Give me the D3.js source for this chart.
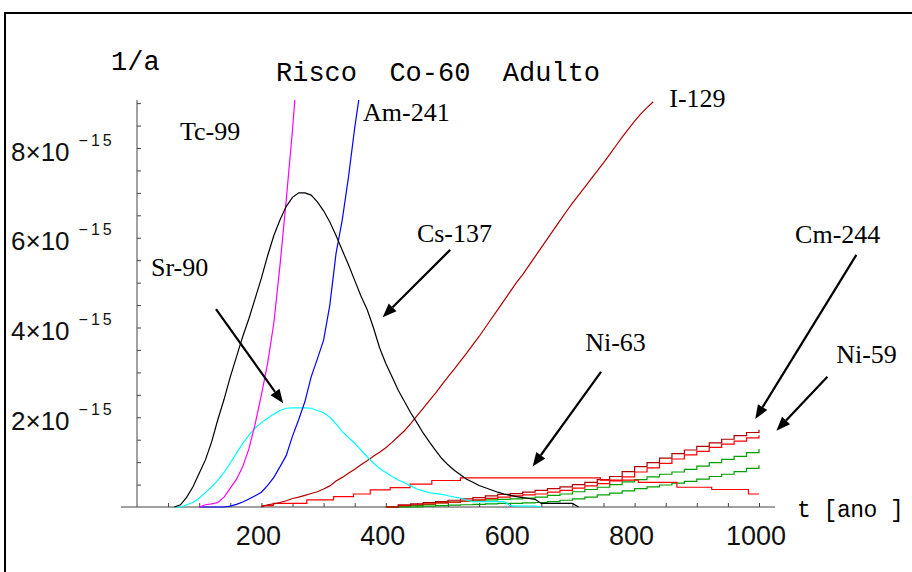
<!DOCTYPE html>
<html><head><meta charset="utf-8">
<script src="https://cdn.jsdelivr.net/npm/d3@7"></script>
<style>body{margin:0;background:#fff}svg{display:block}</style>
</head><body>
<svg id="c" width="912" height="572"></svg>
<script>
// ---- data (risk in units of 1e-15 per year, t in years) ----
const xTickLabels = [200, 400, 600, 800, 1000];
const yTickLabels = [2, 4, 6, 8];
const yExponent = "-15";

const cs137Start = 60, cs137Step = 10;
const cs137 = [0,0.05,0.22,0.45,0.75,1.05,1.45,1.95,2.4,2.9,3.35,3.8,4.2,4.65,5.1,5.6,6.05,6.4,6.7,6.9,7.0,7.0,6.95,6.8,6.6,6.35,6.05,5.72,5.4,5.05,4.7,4.4,4.0,3.55,3.2,2.9,2.6,2.35,2.1,1.88,1.65,1.45,1.26,1.08,0.94,0.82,0.72,0.62,0.55,0.48,0.43,0.38,0.33,0.29,0.26,0.23,0.21,0.19,0.17,0.08,0.08,0.08,0.08,0.08,0.08,0];

const sr90Start = 60, sr90Step = 10;
const sr90 = [0,0,0.05,0.1,0.2,0.32,0.45,0.6,0.77,0.98,1.2,1.42,1.6,1.76,1.88,1.98,2.07,2.15,2.2,2.21,2.21,2.21,2.2,2.15,2.1,2.0,1.85,1.68,1.55,1.42,1.27,1.12,0.98,0.86,0.77,0.68,0.6,0.54,0.47,0.4,0.36,0.32,0.3,0.28,0.25,0.22,0.2,0.15,0.12,0.12,0.12,0.12,0.12,0.12,0.03,0.02,0.02,0.02,0.02,0];

const tc99Start = 100, tc99Step = 10;
const tc99 = [0,0.05,0.07,0.1,0.22,0.42,0.62,0.9,1.3,1.85,2.5,3.2,4.1,5.4,6.85,8.4,10.2];

const am241Start = 100, am241Step = 10;
const am241 = [0,0,0,0,0,0.02,0.06,0.11,0.18,0.25,0.33,0.48,0.66,0.9,1.15,1.58,1.95,2.35,2.9,3.3,3.72,4.5,5.65,6.4,7.35,8.45,9.4];

const i129Start = 200, i129Step = 10;
const i129 = [0,0.05,0.07,0.1,0.14,0.19,0.22,0.26,0.3,0.34,0.4,0.47,0.58,0.66,0.75,0.84,0.94,1.03,1.13,1.22,1.32,1.44,1.57,1.7,1.86,2.03,2.2,2.37,2.54,2.72,2.9,3.07,3.25,3.43,3.62,3.8,4.0,4.2,4.4,4.6,4.8,5.0,5.18,5.38,5.58,5.78,5.98,6.18,6.38,6.58,6.77,6.95,7.13,7.31,7.49,7.67,7.86,8.05,8.24,8.42,8.6,8.76,8.9,9.03];

const lateStart = 400, lateStep = 20;
const cm244 = [0,0.05,0.07,0.1,0.12,0.15,0.18,0.21,0.25,0.28,0.3,0.33,0.37,0.41,0.45,0.5,0.55,0.61,0.68,0.79,0.9,0.99,1.09,1.19,1.27,1.35,1.43,1.51,1.59,1.66,1.72];
const ni59 = [0,0.03,0.05,0.07,0.09,0.11,0.13,0.16,0.19,0.22,0.25,0.27,0.29,0.33,0.37,0.42,0.47,0.52,0.58,0.67,0.78,0.87,0.97,1.07,1.16,1.24,1.33,1.4,1.47,1.54,1.6];
const greenA = [0,0.01,0.03,0.06,0.09,0.11,0.13,0.15,0.16,0.17,0.18,0.2,0.22,0.26,0.29,0.34,0.39,0.44,0.5,0.56,0.61,0.67,0.73,0.78,0.84,0.91,0.99,1.06,1.13,1.21,1.29];
const greenB = [0,0,0,0.02,0.03,0.04,0.05,0.06,0.07,0.08,0.08,0.09,0.1,0.12,0.15,0.18,0.22,0.27,0.31,0.36,0.41,0.45,0.49,0.53,0.57,0.62,0.68,0.73,0.79,0.86,0.93];

const ni63Years  = [200,219,273,316,348,375,407,439,474,520,745,806,868,924,983,1000];
const ni63Values = [0.03,0.08,0.16,0.23,0.29,0.38,0.43,0.51,0.59,0.65,0.6,0.55,0.44,0.39,0.29,0.29];

// labels and arrows in data coordinates
const labelNames = ["Tc-99","Am-241","I-129","Cs-137","Sr-90","Ni-63","Cm-244","Ni-59"];
const labelT = [69, 363.5, 855.7, 450, 22.5, 720.6, 1058, 1124];
const labelV = [8.18, 8.6, 8.91, 5.9, 5.15, 3.48, 5.88, 3.21];
const arrowFromT = [127, 503.5, 746, 1156.5, 1110];
const arrowFromV = [4.41, 5.73, 3.01, 5.62, 2.9];
const arrowToT = [235, 395, 636, 994, 1028];
const arrowToV = [2.31, 4.23, 0.9, 1.96, 1.7];

// ---- drawing ----
const svg = d3.select("#c");
const x = d3.scaleLinear().domain([0, 1000]).range([137, 759]);
const y = d3.scaleLinear().domain([0, 8]).range([507, 148]);

// frame
svg.append("path").attr("d", "M5,600V13H920").attr("fill","none").attr("stroke","#000").attr("stroke-width",2);

svg.append("defs").append("clipPath").attr("id","plot")
  .append("rect").attr("x", x(-30)).attr("y", y(9.07)).attr("width", x(1040)-x(-30)).attr("height", y(0)-y(9.07)+1);

const axisColor = "#444";
const gx = svg.append("g").attr("transform", `translate(0,${y(0)})`);
gx.call(d3.axisBottom(x).tickValues(d3.range(50, 1001, 50)).tickSize(-4).tickFormat(""));
gx.select(".domain").remove();
gx.selectAll("line").attr("stroke", axisColor);
gx.append("line").attr("x1", x(-26)).attr("x2", x(1026)).attr("stroke", axisColor);
const gy = svg.append("g").attr("transform", `translate(${x(0)},0)`);
gy.call(d3.axisLeft(y).tickValues(d3.range(0.5, 9.01, 0.5)).tickSize(-4).tickFormat(""));
gy.select(".domain").remove();
gy.selectAll("line").attr("stroke", axisColor);
gy.append("line").attr("y1", y(0)).attr("y2", y(9.07)).attr("stroke", axisColor);

svg.selectAll("text.xl").data(xTickLabels).join("text")
  .attr("x", d => x(d) - 3).attr("y", 545).attr("text-anchor","middle")
  .attr("font-family","Liberation Sans, Arial, sans-serif").attr("font-size", 27).attr("fill","#111")
  .text(d => d);
const yl = svg.selectAll("text.yl").data(yTickLabels).join("text")
  .attr("x", 11).attr("y", d => y(d) + 12.5)
  .attr("font-family","Liberation Sans, Arial, sans-serif").attr("font-size", 26).attr("fill","#111");
yl.append("tspan").text(d => d + "\u00d710");
yl.append("tspan").attr("dx", 9).attr("dy", -15).attr("font-size", 16).attr("letter-spacing", 3)
  .text(yExponent.replace("-", "\u2212"));

const mono = "Liberation Mono, Courier New, monospace";
svg.append("text").attr("x", 111).attr("y", 70).attr("font-family", mono).attr("font-size", 27).text("1/a");
svg.append("text").attr("x", 276).attr("y", 81).attr("font-family", mono).attr("font-size", 27)
  .style("white-space","pre").text("Risco  Co-60  Adulto");
svg.append("text").attr("x", 797).attr("y", 517).attr("font-family", mono).attr("font-size", 23)
  .attr("letter-spacing", -0.5).style("white-space","pre").text("t [ano ]");

function pts(start, step, vals) { return vals.map((v, i) => [start + i * step, v]); }
const series = [
  {d: pts(lateStart, lateStep, greenB), c: "#00a000", curve: d3.curveStepAfter},
  {d: pts(lateStart, lateStep, greenA), c: "#00a000", curve: d3.curveStepAfter},
  {d: pts(lateStart, lateStep, ni59), c: "#ff0000", curve: d3.curveStepAfter},
  {d: pts(lateStart, lateStep, cm244), c: "#b00000", curve: d3.curveStepAfter},
  {d: ni63Years.map((t, i) => [t, ni63Values[i]]), c: "#ff0000", curve: d3.curveStepAfter},
  {d: pts(i129Start, i129Step, i129), c: "#b00000", curve: d3.curveLinear},
  {d: pts(sr90Start, sr90Step, sr90), c: "#00ffff", curve: d3.curveLinear},
  {d: pts(am241Start, am241Step, am241), c: "#0000ff", curve: d3.curveLinear},
  {d: pts(tc99Start, tc99Step, tc99), c: "#ff00ff", curve: d3.curveLinear},
  {d: pts(cs137Start, cs137Step, cs137), c: "#000000", curve: d3.curveLinear},
];
const gl = svg.append("g").attr("clip-path", "url(#plot)");
series.forEach(s => {
  gl.append("path").datum(s.d)
    .attr("d", d3.line().x(d => x(d[0])).y(d => y(d[1])).curve(s.curve))
    .attr("fill","none").attr("stroke", s.c).attr("stroke-width", 1.2);
});

svg.selectAll("text.lab").data(labelNames).join("text")
  .attr("x", (d, i) => x(labelT[i])).attr("y", (d, i) => y(labelV[i]))
  .attr("font-family","Liberation Serif, Times New Roman, serif").attr("font-size", 26)
  .text(d => d);

arrowFromT.forEach((t1, i) => {
  const x1 = x(t1), y1 = y(arrowFromV[i]), x2 = x(arrowToT[i]), y2 = y(arrowToV[i]);
  const a = Math.atan2(y2 - y1, x2 - x1), L = 14, W = 5.5;
  const bx = x2 - L * Math.cos(a), by = y2 - L * Math.sin(a);
  svg.append("line").attr("x1", x1).attr("y1", y1).attr("x2", bx).attr("y2", by)
    .attr("stroke","#000").attr("stroke-width", 2.2);
  const p = [[x2, y2], [bx + W * Math.sin(a), by - W * Math.cos(a)], [bx - W * Math.sin(a), by + W * Math.cos(a)]];
  svg.append("polygon").attr("points", p.map(q => q.join(",")).join(" ")).attr("fill","#000");
});
</script>
</body></html>
